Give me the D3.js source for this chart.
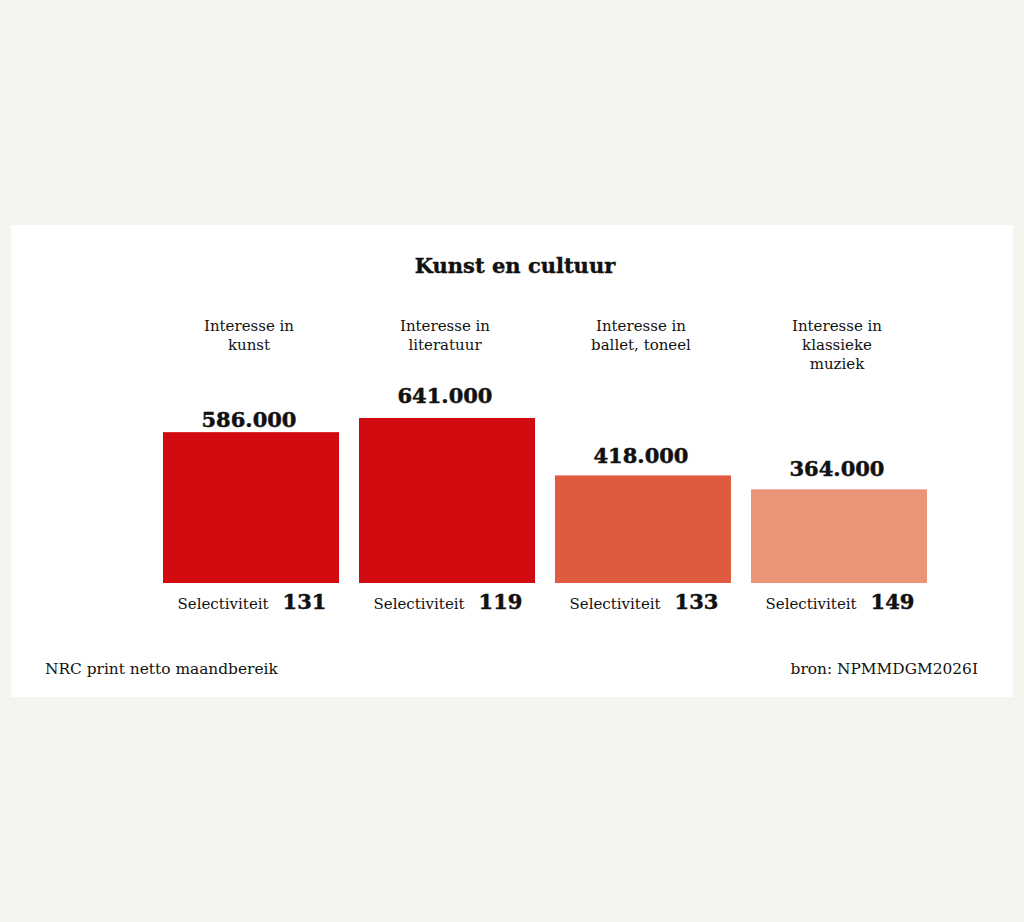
<!DOCTYPE html>
<html>
<head>
<meta charset="utf-8">
<script src="https://cdn.jsdelivr.net/npm/d3@7"></script>
<style>
  body { margin: 0; background: #f5f4ef; }
  svg { display: block; }
  text { font-family: "DejaVu Serif", "Liberation Serif", serif; fill: #111; }
  .cat { font-size: 15px; }
  .val { font-size: 21px; font-weight: bold; stroke: #111; stroke-width: 0.5px; }
  .sel { font-size: 15px; }
  .selnum { font-size: 21px; font-weight: bold; stroke: #111; stroke-width: 0.5px; }
  .foot { font-size: 15.4px; }
  .title { font-size: 21px; font-weight: bold; stroke: #111; stroke-width: 0.4px; }
</style>
</head>
<body>
<div id="chart"></div>
<script>
// data
const categories = [
  ["Interesse in", "kunst"],
  ["Interesse in", "literatuur"],
  ["Interesse in", "ballet, toneel"],
  ["Interesse in", "klassieke", "muziek"]
];
const bereik = [586000, 641000, 418000, 364000];
const selectiviteit = [131, 119, 133, 149];
const colors = ["#d20b11", "#d20b11", "#df5a3e", "#ea9478"];

// gap between value label baseline and bar top (as in the original layout)
const labelGap = [5, 15, 12, 13];

const width = 1024, height = 922;

const svg = d3.select("#chart")
  .append("svg")
    .attr("width", width)
    .attr("height", height);

// white panel
svg.append("rect")
  .attr("x", 11)
  .attr("y", 225)
  .attr("width", 1002)
  .attr("height", 472)
  .attr("fill", "#fff");

svg.append("text")
  .attr("class", "title")
  .attr("x", 515)
  .attr("y", 273)
  .attr("text-anchor", "middle")
  .text("Kunst en cultuur");

const x = d3.scaleBand()
  .domain(d3.range(categories.length))
  .range([153, 937])
  .paddingInner(20 / 196)
  .paddingOuter(10 / 196);

const y = d3.scaleLinear()
  .domain([0, 641000])
  .range([583, 418]);

const fmt = d => d3.format(",")(d).replace(/,/g, ".");
const cx = i => x(i) + x.bandwidth() / 2 - 2;

const g = svg.append("g")
  .selectAll("g")
  .data(bereik)
  .join("g");

g.append("rect")
  .attr("x", (d, i) => x(i))
  .attr("y", d => y(d))
  .attr("width", x.bandwidth())
  .attr("height", d => y(0) - y(d))
  .attr("fill", (d, i) => colors[i]);

g.append("text")
  .attr("class", "val")
  .attr("x", (d, i) => cx(i))
  .attr("y", (d, i) => y(d) - labelGap[i])
  .attr("text-anchor", "middle")
  .text(d => fmt(d));

// category labels
g.append("text")
  .attr("class", "cat")
  .attr("text-anchor", "middle")
  .attr("y", 331)
  .selectAll("tspan")
  .data((d, i) => categories[i].map(l => ({l, i})))
  .join("tspan")
    .attr("x", d => cx(d.i))
    .attr("dy", (d, j) => j === 0 ? 0 : 19)
    .text(d => d.l);

// selectiviteit line
const sel = g.append("text")
  .attr("x", (d, i) => x(i) + x.bandwidth() / 2 + 1)
  .attr("y", 609)
  .attr("text-anchor", "middle");
sel.append("tspan")
  .attr("class", "sel")
  .text("Selectiviteit");
sel.append("tspan")
  .attr("class", "selnum")
  .attr("dx", 14)
  .text((d, i) => selectiviteit[i]);

svg.append("text")
  .attr("class", "foot")
  .attr("x", 45)
  .attr("y", 674)
  .text("NRC print netto maandbereik");

svg.append("text")
  .attr("class", "foot")
  .attr("x", 978)
  .attr("y", 674)
  .attr("text-anchor", "end")
  .text("bron: NPMMDGM2026I");
</script>
</body>
</html>
